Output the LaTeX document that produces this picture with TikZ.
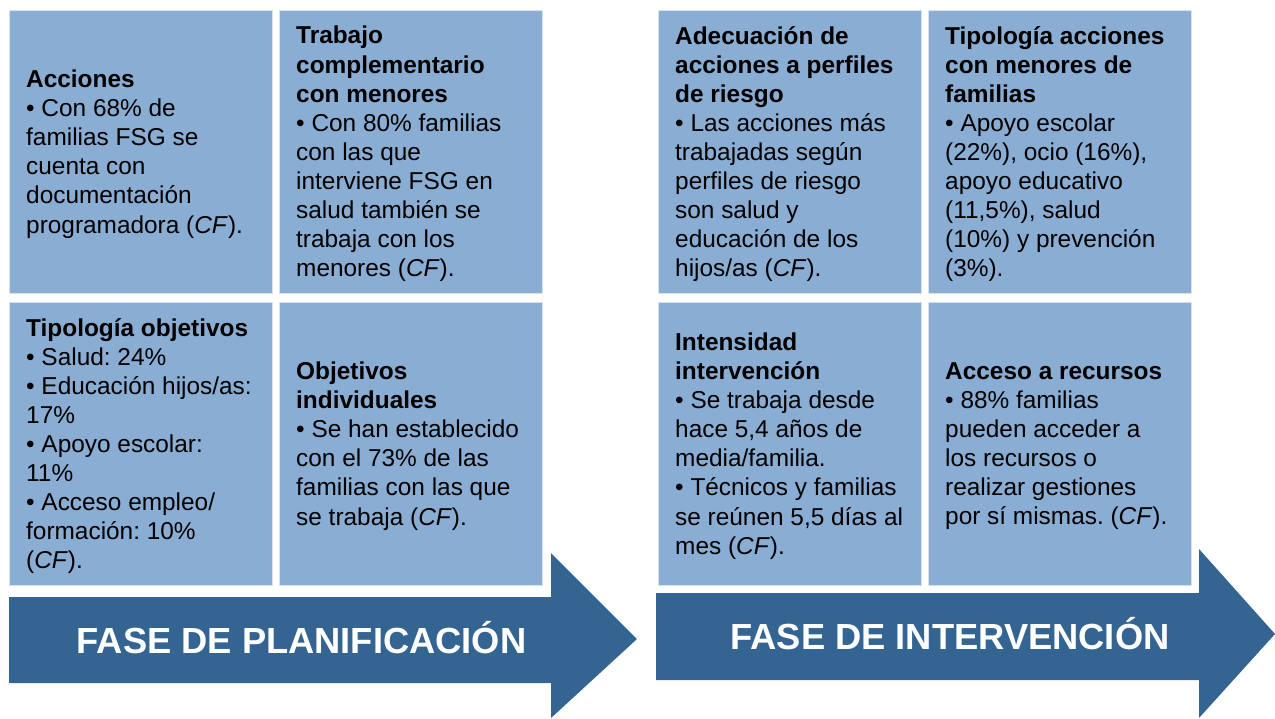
\documentclass[tikz,border=0pt]{standalone}
\usepackage{fontspec}
\setmainfont{Liberation Sans}
\usetikzlibrary{positioning}
\definecolor{boxblue}{RGB}{138,173,211}
\definecolor{arrowblue}{RGB}{52,100,145}
\frenchspacing

\begin{document}
\begin{tikzpicture}[x=1pt, y=1pt,
    box/.style={rectangle, fill=boxblue, draw=white!65!boxblue, line width=0.6pt, minimum width=263pt, minimum height=283pt, inner sep=0pt, outer sep=0pt},
    txt/.style={align=left, inner sep=0pt, yshift=-2.5pt, font=\fontsize{24.4}{29.1}\selectfont},
    fase/.style={text=white, inner sep=0pt, anchor=base, font=\fontsize{36.3}{42}\selectfont\bfseries}]
    \useasboundingbox (0,0) rectangle (1275,-718);
    % arrows
    \fill[arrowblue] (9,-597) -- (551,-597) -- (551,-553) -- (637,-639) -- (551,-718) -- (551,-683) -- (9,-683) -- cycle;
    \fill[arrowblue] (656,-593) -- (1199,-593) -- (1199,-549) -- (1275,-634) -- (1199,-718) -- (1199,-680) -- (656,-680) -- cycle;
    \node[fase] (plan) at (301.5,-653) {FASE DE PLANIFICACIÓN};
    \node[fase] (inter) at (950,-649) {FASE DE INTERVENCIÓN};
    % planificacion
    \node[box, anchor=north west] (acc) at (9,-10) {};
    \node[box, right=7pt of acc] (trab) {};
    \node[box, below=9pt of acc] (tipo) {};
    \node[box, right=7pt of tipo] (obj) {};
    \node[txt, right=17pt of acc.west] (accT) {\textbf{Acciones}\\
        • Con 68\% de\\ familias FSG se\\ cuenta con\\ documentación\\ programadora (\textit{CF}).};
    \node[txt, right=17pt of trab.west] (trabT) {\textbf{Trabajo}\\ \textbf{complementario}\\ \textbf{con menores}\\
        • Con 80\% familias\\ con las que\\ interviene FSG en\\ salud también se\\ trabaja con los\\ menores (\textit{CF}).};
    \node[txt, right=17pt of tipo.west] (tipoT) {\textbf{Tipología objetivos}\\
        • Salud: 24\%\\ • Educación hijos/as:\\ 17\%\\ • Apoyo escolar:\\ 11\%\\ • Acceso empleo/\\ formación: 10\%\\ (\textit{CF}).};
    \node[txt, right=17pt of obj.west] (objT) {\textbf{Objetivos}\\ \textbf{individuales}\\
        • Se han establecido\\ con el 73\% de las\\ familias con las que\\ se trabaja (\textit{CF}).};
    % intervencion
    \node[box, anchor=north west] (adec) at (658,-10) {};
    \node[box, right=7pt of adec] (tacc) {};
    \node[box, below=9pt of adec] (inten) {};
    \node[box, right=7pt of inten] (recu) {};
    \node[txt, right=17pt of adec.west] (adecT) {\textbf{Adecuación de}\\ \textbf{acciones a perfiles}\\ \textbf{de riesgo}\\
        • Las acciones más\\ trabajadas según\\ perfiles de riesgo\\ son salud y\\ educación de los\\ hijos/as (\textit{CF}).};
    \node[txt, right=17pt of tacc.west] (taccT) {\textbf{Tipología acciones}\\ \textbf{con menores de}\\ \textbf{familias}\\
        • Apoyo escolar\\ (22\%), ocio (16\%),\\ apoyo educativo\\ (11,5\%), salud\\ (10\%) y prevención\\ (3\%).};
    \node[txt, right=17pt of inten.west] (intenT) {\textbf{Intensidad}\\ \textbf{intervención}\\
        • Se trabaja desde\\ hace 5,4 años de\\ media/familia.\\ • Técnicos y familias\\ se reúnen 5,5 días al\\ mes (\textit{CF}).};
    \node[txt, right=17pt of recu.west] (recuT) {\textbf{Acceso a recursos}\\
        • 88\% familias\\ pueden acceder a\\ los recursos o\\ realizar gestiones\\ por sí mismas. (\textit{CF}).};
\end{tikzpicture}
\end{document}
